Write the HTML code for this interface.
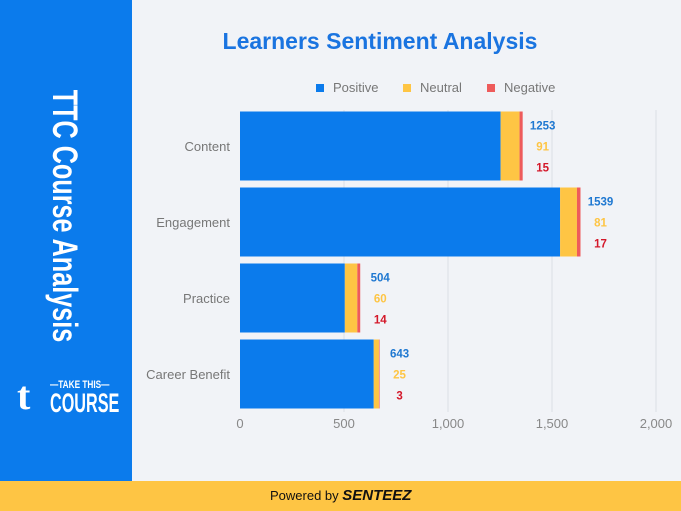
<!DOCTYPE html>
<html><head><meta charset="utf-8"><style>
html,body{margin:0;padding:0}
body{width:681px;height:511px;position:relative;background:#f1f3f7;font-family:"Liberation Sans",sans-serif;overflow:hidden}
#side{position:absolute;left:0;top:0;width:132px;height:481px;background:#0b7bec}
#foot{position:absolute;left:0;top:481px;width:681px;height:30px;background:#fec544}
</style></head><body>
<div id="side">
  <div style="position:absolute;left:64px;top:216px;transform:translate(-50%,-50%) rotate(90deg) scaleX(0.72);white-space:nowrap;color:#fff;font-weight:bold;font-size:35px;">TTC Course Analysis</div>
  <div style="position:absolute;left:17px;top:376px;color:#fff;">
    <div style="position:absolute;left:0;top:0;font-size:40px;font-weight:bold;line-height:40px;font-family:'Liberation Serif',serif">t</div>
    <div style="position:absolute;left:33px;top:3px;font-size:11px;font-weight:bold;white-space:nowrap;transform:scaleX(0.75);transform-origin:left">—TAKE THIS—</div>
    <div style="position:absolute;left:33px;top:13px;font-size:27px;font-weight:bold;white-space:nowrap;transform:scaleX(0.6);transform-origin:left;line-height:28px">COURSE</div>
  </div>
</div>
<div id="foot">
  <div style="position:absolute;left:270px;top:6px;font-size:13px;color:#111">Powered by <b><i style="font-size:15px">SENTEEZ</i></b></div>
</div>
<svg id="chart" width="681" height="481" style="position:absolute;left:0;top:0"></svg>
<script>
const categories=["Content","Engagement","Practice","Career Benefit"];
const positive=[1253,1539,504,643];
const neutral=[91,81,60,25];
const negative=[15,17,14,3];
const ticks=[0,500,1000,1500,2000];
const seriesNames=["Positive","Neutral","Negative"];
const colors=["#0b7bec","#fec544","#ee5b5b"];
const labelColors=["#1f78d1","#fec544","#d4182a"];
const svg=document.getElementById('chart');
const NS="http://www.w3.org/2000/svg";
const x0=240,x1=656,vmax=2000;
const xs=v=>x0+v/vmax*(x1-x0);
const bandTop=108,bandH=76,barH=69;
const yb=i=>bandTop+i*bandH+3.5;
function mk(t,a){const e=document.createElementNS(NS,t);for(const k in a)e.setAttribute(k,a[k]);svg.appendChild(e);return e;}
let t=mk('text',{x:380,y:49,'text-anchor':'middle','font-size':23,'font-weight':'bold',fill:'#1a74e0'});
t.textContent="Learners Sentiment Analysis";
const lx=[316,403,487];
seriesNames.forEach((n,i)=>{
 const r=mk('rect',{x:lx[i],y:84,width:8,height:8,fill:colors[i]});
 
 const tx=mk('text',{x:lx[i]+17,y:92,'font-size':13,fill:'#777'});
 tx.textContent=n;
});
ticks.forEach(v=>{
 if(v>0){const g=mk('line',{x1:xs(v),x2:xs(v),y1:110,y2:412,stroke:'#dcdfe4','stroke-width':1});
 }
 const tx=mk('text',{x:xs(v),y:428,'text-anchor':'middle','font-size':13,fill:'#888'});
 tx.textContent=v.toLocaleString('en-US');
});
categories.forEach((c,i)=>{
 const y=yb(i);
 const cl=mk('text',{x:230,y:y+barH/2+5,'text-anchor':'end','font-size':13,fill:'#777'});
 cl.textContent=c;
 const vals=[positive[i],neutral[i],negative[i]];
 let acc=0;
 const total=vals[0]+vals[1]+vals[2];
 const end=xs(total);
 vals.forEach((v,j)=>{
  const r=mk('rect',{x:xs(acc),y:y,width:xs(acc+v)-xs(acc),height:barH,fill:colors[j]});
  
  acc+=v;
 });
 vals.forEach((v,j)=>{
  const tx=mk('text',{x:end+20,y:y+18+j*21,'text-anchor':'middle','font-size':11.5,'font-weight':'bold',fill:labelColors[j]});
  tx.textContent=v;
 });
});
</script>
</body></html>
